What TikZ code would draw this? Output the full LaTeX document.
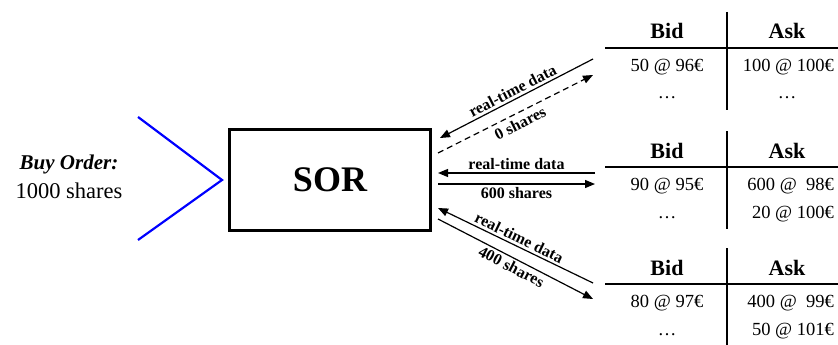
\documentclass[tikz,border=0pt]{standalone}
\usepackage{fontspec}
\setmainfont{Liberation Serif}
\usetikzlibrary{arrows.meta}

\begin{document}
\begin{tikzpicture}[x=1pt,y=-1pt,
  hd/.style={font=\fontsize{22}{24}\selectfont\bfseries, inner sep=0pt, anchor=base},
  cell/.style={font=\fontsize{18.5}{20}\selectfont, inner sep=0pt, anchor=base},
  cellr/.style={cell, anchor=base east},
  lbl/.style={font=\fontsize{16}{17}\selectfont\bfseries, inner sep=2.5pt, sloped, midway},
  flow/.style={line width=1.2pt, -{Triangle[length=10pt,width=8pt]}},
  rule/.style={line width=1.6pt}]
\useasboundingbox (0,0) rectangle (838,345);

% incoming order
\node[align=center, font=\fontsize{22.5}{29}\selectfont] (buy) at (69,177)
  {{\fontsize{21}{29}\selectfont\textbf{\textit{Buy Order:}}}\\1000 shares};
\coordinate (chtop) at (138,117);
\coordinate (chtip) at (222,180);
\coordinate (chbot) at (138,240);
\draw[blue, line width=2.2pt] (chtop) -- (chtip) -- (chbot);

% smart order router
\node[draw, line width=3pt, minimum width=201pt, minimum height=101pt,
      font=\fontsize{36}{40}\selectfont\bfseries] (sor) at (330,180) {SOR};

% order book 1
\draw[rule] (605,48) -- (838,48);
\draw[rule] (727,12) -- (727,110);
\node[hd] (b1h) at (667,39) {Bid};
\node[hd] (a1h) at (787,39) {Ask};
\node[cell] (b1r1) at (667,71) {50 @ 96€};
\node[cell] (b1r2) at (667,99) {…};
\node[cellr] (a1r1) at (834,71) {100 @ 100€};
\node[cell] (a1r2) at (787,99) {…};

% order book 2
\draw[rule] (605,167) -- (838,167);
\draw[rule] (727,131) -- (727,229);
\node[hd] (b2h) at (667,158) {Bid};
\node[hd] (a2h) at (787,158) {Ask};
\node[cell] (b2r1) at (667,190) {90 @ 95€};
\node[cell] (b2r2) at (667,218) {…};
\node[cellr] (a2r1) at (834,190) {600 @\hspace{0.5em}98€};
\node[cellr] (a2r2) at (834,218) {20 @ 100€};

% order book 3
\draw[rule] (605,284) -- (838,284);
\draw[rule] (727,248) -- (727,346);
\node[hd] (b3h) at (667,275) {Bid};
\node[hd] (a3h) at (787,275) {Ask};
\node[cell] (b3r1) at (667,307) {80 @ 97€};
\node[cell] (b3r2) at (667,335) {…};
\node[cellr] (a3r1) at (834,307) {400 @\hspace{0.5em}99€};
\node[cellr] (a3r2) at (834,335) {50 @ 101€};

% connector end points
\coordinate (m1a) at (593,59);  \coordinate (s1a) at (440,138);
\coordinate (s1b) at (438,153); \coordinate (m1b) at (593,75);
\coordinate (m2a) at (595,173); \coordinate (s2a) at (438,173);
\coordinate (s2b) at (438,184); \coordinate (m2b) at (595,184);
\coordinate (m3a) at (593,283); \coordinate (s3a) at (438,208);
\coordinate (s3b) at (438,219); \coordinate (m3b) at (593,299);

% market data in, orders out
\draw[flow] (m1a) -- node[lbl, above] {real-time data} (s1a);
\draw[flow, dash pattern=on 6pt off 4pt] (s1b) -- node[lbl, below, inner sep=4pt] {0 shares} (m1b);
\draw[flow] (m2a) -- node[lbl, above] {real-time data} (s2a);
\draw[flow] (s2b) -- node[lbl, below] {600 shares} (m2b);
\draw[flow] (m3a) -- node[lbl, above] {real-time data} (s3a);
\draw[flow] (s3b) -- node[lbl, below] {400 shares} (m3b);
\end{tikzpicture}
\end{document}
